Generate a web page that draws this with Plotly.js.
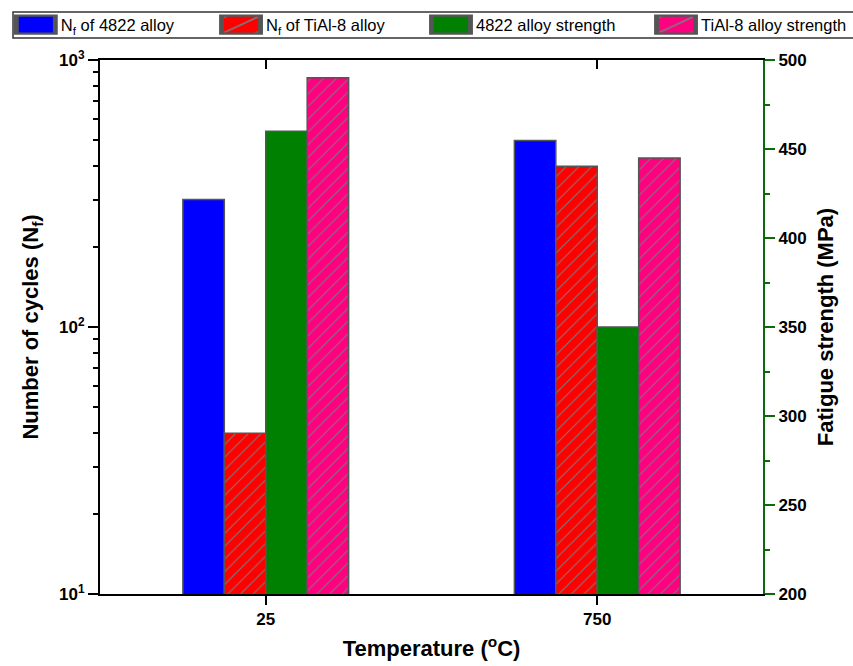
<!DOCTYPE html>
<html>
<head>
<meta charset="utf-8">
<script src="https://cdn.plot.ly/plotly-3.0.1.min.js"></script>
<style>html,body{margin:0;padding:0;background:#fff}#chart{width:853px;height:666px}</style>
</head>
<body>
<div id="chart"></div>
<script>
const categories = ['25', '750'];
const nf4822 = [300, 500];
const nfTiAl8 = [40, 400];
const strength4822 = [460, 350];
const strengthTiAl8 = [490, 445];
const leftTickVals = [10, 100, 1000];
const leftTickText = ['10<sup>1</sup>', '10<sup>2</sup>', '10<sup>3</sup>'];
const leftMinorTicks = [20, 30, 40, 50, 60, 70, 80, 90, 200, 300, 400, 500, 600, 700, 800, 900];

const FONT = 'Liberation Sans, Arial, sans-serif';
const outline = {color: '#555555', width: 1.5};
const green = '#0b6b0b';

const traces = [
  {type: 'bar', name: 'N<sub>f</sub> of 4822 alloy', x: categories, y: nf4822, yaxis: 'y',
   width: 0.125, offset: -0.25, legend: 'legend',
   marker: {color: '#0000ff', line: outline}},
  {type: 'bar', name: 'N<sub>f</sub> of TiAl-8 alloy', x: categories, y: nfTiAl8, yaxis: 'y',
   width: 0.125, offset: -0.125, legend: 'legend2',
   marker: {color: '#ff0000', line: outline,
            pattern: {shape: '/', bgcolor: '#ff0000', fgcolor: '#7a7a7a', size: 9, solidity: 0.12}}},
  {type: 'bar', name: '4822 alloy strength', x: categories, y: strength4822, yaxis: 'y2',
   width: 0.125, offset: 0, legend: 'legend3',
   marker: {color: '#008000', line: outline}},
  {type: 'bar', name: 'TiAl-8 alloy strength', x: categories, y: strengthTiAl8, yaxis: 'y2',
   width: 0.125, offset: 0.125, legend: 'legend4',
   marker: {color: '#ff0080', line: outline,
            pattern: {shape: '/', bgcolor: '#ff0080', fgcolor: '#7a7a7a', size: 9, solidity: 0.12}}},
  {type: 'scatter', x: categories, y: [null, null], xaxis: 'x2', yaxis: 'y',
   showlegend: false, hoverinfo: 'skip', mode: 'markers'}
];

function legendAt(xp) {
  return {orientation: 'h', x: xp, xanchor: 'left', y: 1.0655, yanchor: 'middle',
          borderwidth: 0, bgcolor: 'rgba(0,0,0,0)',
          font: {family: FONT, size: 16.5, color: '#000'}, itemwidth: 40};
}

const layout = {
  width: 853, height: 666,
  margin: {l: 100, r: 90, t: 60, b: 72, autoexpand: false},
  paper_bgcolor: '#fff', plot_bgcolor: '#fff',
  font: {family: FONT, color: '#000', size: 16},
  showlegend: true,
  legend: legendAt(-0.1345),
  legend2: legendAt(0.1750),
  legend3: legendAt(0.4917),
  legend4: legendAt(0.8311),
  shapes: [{type: 'rect', xref: 'paper', yref: 'paper', x0: -0.1312, x1: 1.145, y0: 1.0412, y1: 1.0899,
            line: {color: '#333', width: 1.5}, fillcolor: 'rgba(0,0,0,0)', layer: 'above'}],
  xaxis: {type: 'category', range: [-0.5, 1.5], showgrid: false, zeroline: false,
          showline: true, linecolor: '#000', linewidth: 2,
          ticks: 'outside', ticklen: 9, tickwidth: 2, tickcolor: '#000',
          tickfont: {family: FONT, size: 17, weight: 'bold'},
          title: {text: 'Temperature (<sup>o</sup>C)', font: {family: FONT, size: 22, weight: 'bold'}, standoff: 12}},
  xaxis2: {type: 'category', overlaying: 'x', matches: 'x', side: 'top', showgrid: false, zeroline: false,
           showline: true, linecolor: '#000', linewidth: 2,
           ticks: 'inside', ticklen: 9, tickwidth: 2, tickcolor: '#000', showticklabels: false},
  yaxis: {type: 'log', range: [1, 3.00001], showgrid: false, zeroline: false,
          showline: true, linecolor: '#000', linewidth: 2,
          tickmode: 'array', tickvals: leftTickVals, ticktext: leftTickText,
          ticks: 'outside', ticklen: 10, tickwidth: 2, tickcolor: '#000',
          minor: {ticks: 'outside', ticklen: 5, tickwidth: 2, tickcolor: '#000',
                  tickmode: 'array', tickvals: leftMinorTicks, showgrid: false},
          tickfont: {family: FONT, size: 17, weight: 'bold'},
          title: {text: 'Number of cycles (N<sub>f</sub>)', font: {family: FONT, size: 22, weight: 'bold'}, standoff: 14}},
  yaxis2: {overlaying: 'y', side: 'right', range: [200, 500.001], tick0: 200, dtick: 50, showgrid: false, zeroline: false,
           showline: true, linecolor: green, linewidth: 2,
           ticks: 'outside', ticklen: 10, tickwidth: 2, tickcolor: green,
           minor: {ticks: 'outside', ticklen: 5, tickwidth: 2, tickcolor: green, dtick: 25, showgrid: false},
           tickfont: {family: FONT, size: 17, weight: 'bold', color: '#000'},
           title: {text: 'Fatigue strength (MPa)', font: {family: FONT, size: 22, weight: 'bold'}, standoff: 12}},
  bargap: 0, bargroupgap: 0
};

Plotly.newPlot('chart', traces, layout, {displayModeBar: false, staticPlot: true}).then(function () {
  document.querySelectorAll('.legendpoints path').forEach(function (p) {
    const t = p.getAttribute('transform') || '';
    p.setAttribute('transform', t + ' scale(3.25,1.5)');
  });
});
</script>
</body>
</html>
